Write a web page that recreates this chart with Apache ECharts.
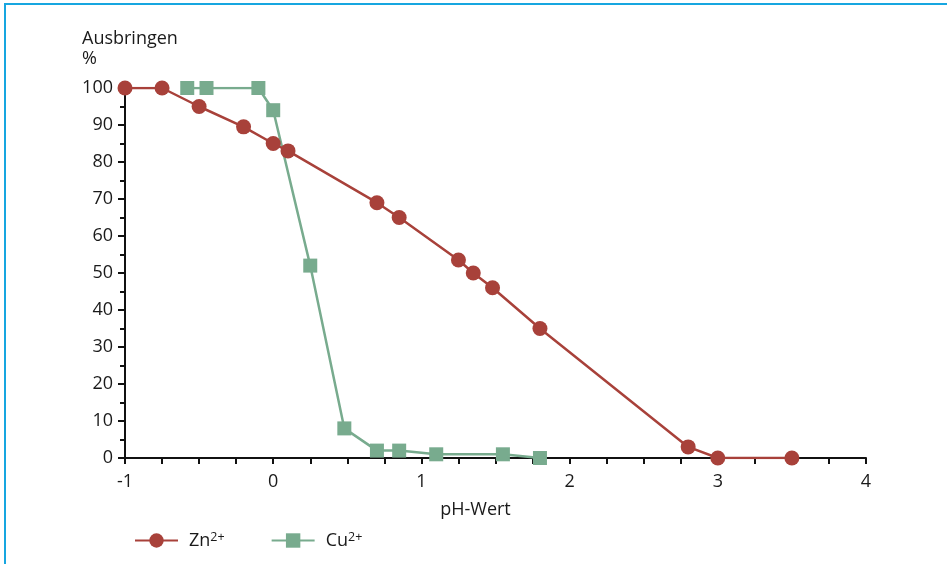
<!DOCTYPE html>
<html>
<head>
<meta charset="utf-8">
<script src="https://cdn.jsdelivr.net/npm/echarts@6/dist/echarts.min.js"></script>
<style>
  html, body { margin: 0; padding: 0; background: #fff; }
  #main { width: 947px; height: 564px; }
</style>
</head>
<body>
<div id="main"></div>
<script>
// Ausbringen (%) über pH-Wert
var znPh    = [-1, -0.75, -0.5, -0.2, 0, 0.1, 0.7, 0.85, 1.25, 1.35, 1.48, 1.8, 2.8, 3, 3.5];
var znYield = [100, 100, 95, 89.5, 85, 83, 69, 65, 53.5, 50, 46, 35, 3, 0, 0];
var cuPh    = [-0.58, -0.45, -0.1, 0, 0.25, 0.48, 0.7, 0.85, 1.1, 1.55, 1.8];
var cuYield = [100, 100, 100, 94, 52, 8, 2, 2, 1, 1, 0];
var seriesNames = ['Zn2+', 'Cu2+'];

function pairs(xs, ys) {
	var out = [];
	for (var i = 0; i < xs.length; i++) out.push([xs[i], ys[i]]);
	return out;
}

var font = 'Open Sans';
var fs = 18;
var myChart = echarts.init(document.getElementById('main'));

var option = {
	backgroundColor: '#fff',
	textStyle: { fontFamily: font, color: '#1a1a1a' },
	animation: false,
	grid: { left: 125, right: 81, top: 88, bottom: 106 },
	title: {
		text: 'Ausbringen\n%',
		left: 77,
		top: 24,
		textStyle: { fontFamily: font, fontSize: fs, fontWeight: 'normal', color: '#1a1a1a', lineHeight: 20 }
	},
	legend: {
		left: 129,
		top: 526,
		itemWidth: 43,
		itemHeight: 18,
		itemGap: 46,
		data: seriesNames,
		formatter: function (name) {
			return '{b|' + name.slice(0, 2) + '}{s|' + name.slice(2) + '}';
		},
		textStyle: {
			fontFamily: font,
			rich: {
				b: { fontSize: fs, color: '#1a1a1a', fontFamily: font, padding: [0, 0, 0, 6] },
				s: { fontSize: 12.5, color: '#1a1a1a', fontFamily: font, padding: [0, 0, 6, 0] }
			}
		}
	},
	graphic: [{
		type: 'rect',
		silent: true,
		shape: { x: 5, y: 4, width: 1000, height: 700 },
		style: { fill: null, stroke: '#17a6e0', lineWidth: 2 }
	}],
	xAxis: {
		type: 'value',
		min: -1,
		max: 4,
		interval: 1,
		name: 'pH-Wert',
		nameLocation: 'middle',
		nameGap: 43,
		nameTextStyle: { fontSize: fs, color: '#1a1a1a', padding: [0, 40, 0, 0] },
		axisLine: { lineStyle: { color: '#111', width: 2 } },
		axisTick: { length: 6, lineStyle: { color: '#111', width: 2 } },
		minorTick: { show: true, splitNumber: 4, length: 6, lineStyle: { color: '#111', width: 2 } },
		axisLabel: { fontSize: fs, color: '#1a1a1a', margin: 15 },
		splitLine: { show: false }
	},
	yAxis: {
		type: 'value',
		min: 0,
		max: 100,
		interval: 10,
		axisLine: { show: true, onZero: false, lineStyle: { color: '#111', width: 2 } },
		axisTick: { show: true, length: 7, lineStyle: { color: '#111', width: 2 } },
		minorTick: { show: true, splitNumber: 2, length: 5, lineStyle: { color: '#111', width: 2 } },
		axisLabel: { fontSize: fs, color: '#1a1a1a', margin: 12 },
		splitLine: { show: false }
	},
	series: [{
		name: seriesNames[0],
		type: 'line',
		z: 3,
		data: pairs(znPh, znYield),
		symbol: 'circle',
		symbolSize: 15,
		itemStyle: { color: '#a8413a' },
		lineStyle: { color: '#a8413a', width: 2.5 }
	}, {
		name: seriesNames[1],
		type: 'line',
		z: 2,
		data: pairs(cuPh, cuYield),
		symbol: 'rect',
		symbolSize: 14,
		itemStyle: { color: '#78ab8e' },
		lineStyle: { color: '#78ab8e', width: 2.5 }
	}]
};

myChart.setOption(option);
</script>
</body>
</html>
